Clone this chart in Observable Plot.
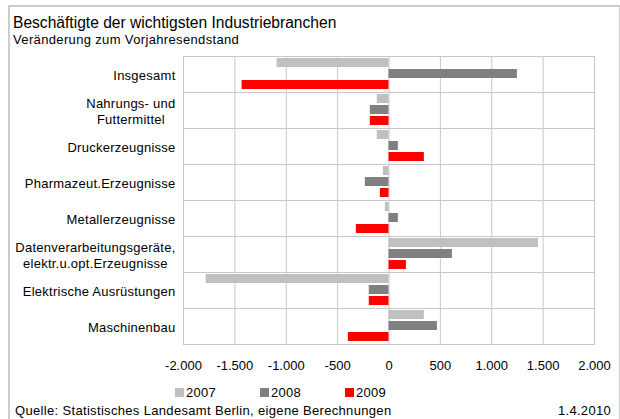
<!DOCTYPE html>
<html>
<head>
<meta charset="utf-8">
<script src="https://cdn.jsdelivr.net/npm/d3@7"></script>
<script src="https://cdn.jsdelivr.net/npm/@observablehq/plot@0.6"></script>
<style>
  html, body { margin: 0; padding: 0; width: 620px; height: 419px; overflow: hidden; background: #fff; }
  body { font-family: "Liberation Sans", Arial, sans-serif; color: #000; position: relative; }
  #frame { position: absolute; left: 8px; top: 5px; width: 609px; height: 430px; border: 2px solid #cccccc; border-bottom: none; }
  #title { position: absolute; left: 13px; top: 14px; font-size: 15.6px; line-height: 18px; white-space: nowrap; }
  #subtitle { position: absolute; left: 13px; top: 32px; font-size: 13px; line-height: 15px; letter-spacing: 0.35px; white-space: nowrap; }
  #chart { position: absolute; left: 0; top: 48px; }
  #chart svg .fy-axis text { letter-spacing: 0.25px; }
  #legend { position: absolute; top: 385px; left: 0; height: 15px; width: 620px; }
  .item { position: absolute; top: 0; display: flex; align-items: center; font-size: 13px; line-height: 15px; letter-spacing: 0.3px; }
  .sw { width: 9px; height: 9px; margin-right: 2px; }
  #source { position: absolute; left: 15px; top: 403px; font-size: 13px; line-height: 15px; letter-spacing: 0.33px; white-space: nowrap; }
  #date { position: absolute; right: 9px; top: 403px; font-size: 13px; line-height: 15px; letter-spacing: 0.3px; }
</style>
</head>
<body>
<div id="frame"></div>
<div id="title">Beschäftigte der wichtigsten Industriebranchen</div>
<div id="subtitle">Veränderung zum Vorjahresendstand</div>
<div id="chart"></div>
<div id="legend"></div>
<div id="source">Quelle: Statistisches Landesamt Berlin, eigene Berechnungen</div>
<div id="date">1.4.2010</div>
<script>
const categories = [
  "Insgesamt",
  "Nahrungs- und\nFuttermittel",
  "Druckerzeugnisse",
  "Pharmazeut.Erzeugnisse",
  "Metallerzeugnisse",
  "Datenverarbeitungsgeräte,\nelektr.u.opt.Erzeugnisse",
  "Elektrische Ausrüstungen",
  "Maschinenbau"
];
const years = ["2007", "2008", "2009"];
const values2007 = [-1090, -114, -114, -55, -36, 1455, -1779, 344];
const values2008 = [1250, -182, 91, -230, 91, 617, -192, 471];
const values2009 = [-1430, -182, 344, -84, -318, 169, -192, -396];
const colors = ["#c0c0c0", "#808080", "#ff0000"];
const xTicks = [-2000, -1500, -1000, -500, 0, 500, 1000, 1500, 2000];

const series = [values2007, values2008, values2009];
const data = categories.flatMap((c, i) => years.map((y, j) => ({cat: c, year: y, value: series[j][i]})));

const fmt = d3.formatLocale({decimal: ",", thousands: ".", grouping: [3], currency: ["", " €"], minus: "-"}).format(",");

const chart = Plot.plot({
  width: 620,
  height: 330,
  marginLeft: 183,
  marginRight: 26,
  marginTop: 6,
  marginBottom: 33,
  style: {fontFamily: "'Liberation Sans', Arial, sans-serif", fontSize: "13px", color: "#000", background: "transparent"},
  x: {domain: [-2000, 2000], axis: null},
  fy: {domain: categories, padding: 0, axis: null},
  y: {domain: years, paddingInner: 0.18, paddingOuter: 0.17, axis: null},
  color: {domain: years, range: colors},
  marks: [
    Plot.gridX({ticks: xTicks, stroke: "#c8c8c8", strokeOpacity: 1, strokeWidth: 1}),
    Plot.frame({stroke: "#c8c8c8", strokeWidth: 1}),
    Plot.barX(data, {fy: "cat", y: "year", x: "value", fill: "year"}),
    Plot.axisX({ticks: xTicks, tickFormat: fmt, tickSize: 0, tickPadding: 16, fontSize: 13, label: null}),
    Plot.axisFy({anchor: "left", tickSize: 0, tickPadding: 8, fontSize: 13, lineHeight: 1.23, label: null, className: "fy-axis"})
  ]
});
document.getElementById("chart").appendChild(chart);

// Center the lines of wrapped category labels on each other (as in the reference)
chart.querySelectorAll(".fy-axis text").forEach(t => {
  if (t.querySelectorAll("tspan").length > 1) {
    const w = t.getBBox().width;
    t.setAttribute("text-anchor", "middle");
    const prev = t.getAttribute("transform") || "";
    t.setAttribute("transform", prev + ` translate(${-w / 2},0)`);
  }
});

const legendLefts = [175, 260, 345];
const legend = document.getElementById("legend");
years.forEach((y, i) => {
  const item = document.createElement("div");
  item.className = "item";
  item.style.left = legendLefts[i] + "px";
  const sw = document.createElement("div");
  sw.className = "sw";
  sw.style.background = colors[i];
  const t = document.createElement("span");
  t.textContent = y;
  item.appendChild(sw);
  item.appendChild(t);
  legend.appendChild(item);
});
</script>
</body>
</html>
